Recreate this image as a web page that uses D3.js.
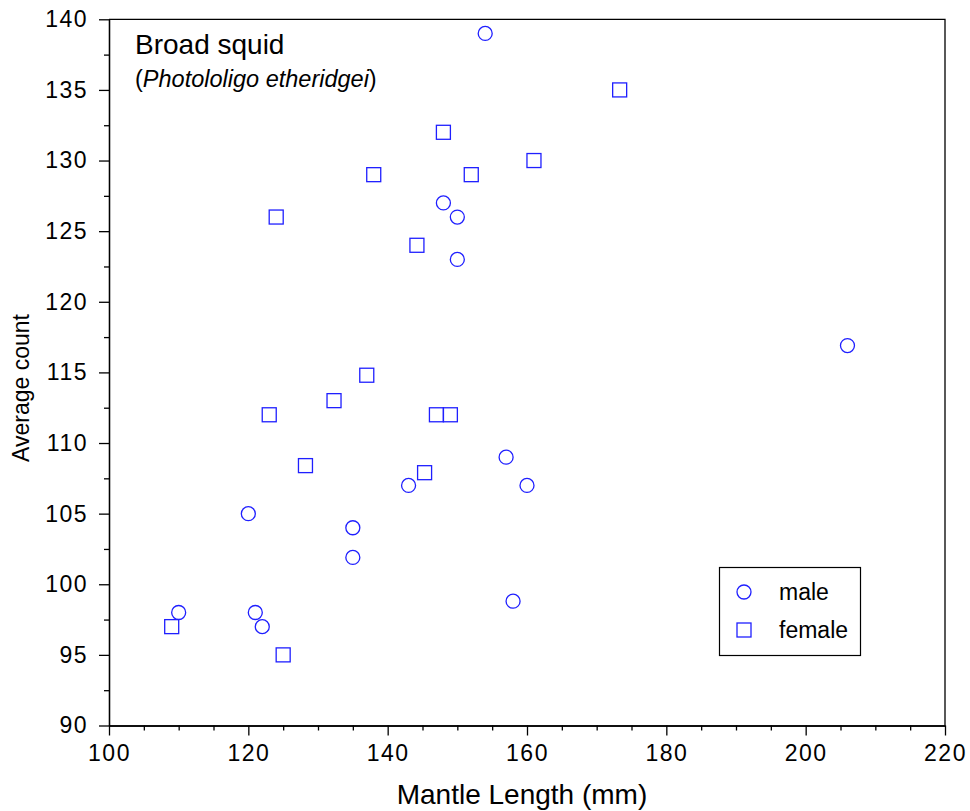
<!DOCTYPE html>
<html>
<head>
<meta charset="utf-8">
<script src="https://cdn.jsdelivr.net/npm/d3@7"></script>
<style>
  body { margin: 0; background: #fff; }
  text { font-family: "Liberation Sans", Arial, sans-serif; fill: #000; }
</style>
</head>
<body>
<script>
// Broad squid scatter
var maleLength = [154, 148, 150, 150, 206, 157, 143, 160, 120, 135, 135, 158, 110, 121, 122];
var maleCount  = [139, 127, 126, 123, 116.9, 109, 107, 107, 105, 104, 101.9, 98.8, 98, 98, 97];

var femaleLength = [173.3, 148, 161, 138, 152, 124, 144.2, 137, 132.3, 123, 147, 149, 128.2, 145.3, 109, 125];
var femaleCount  = [135, 132, 130, 129, 129, 126, 124, 114.8, 113, 112, 112, 112, 108.4, 107.9, 97, 95];

var xTicks = [100, 120, 140, 160, 180, 200, 220];
var yTicks = [90, 95, 100, 105, 110, 115, 120, 125, 130, 135, 140];

var width = 970, height = 811;

var svg = d3.select("body").append("svg")
    .attr("width", width)
    .attr("height", height);

var x = d3.scaleLinear().domain([100, 220]).range([109, 945]);
var y = d3.scaleLinear().domain([90, 140]).range([725.5, 19.3]);

// minor ticks
var xMinor = d3.range(100, 221, 5).filter(function(d){ return d % 20 != 0; });
var yMinor = d3.range(92.5, 140, 5);

// frame on top and right
svg.append("path")
    .attr("d", "M" + x(100) + "," + y(140) + "H" + x(220) + "V" + y(90))
    .attr("fill", "none")
    .attr("stroke", "#000")
    .attr("stroke-width", 1.3);

var xAxis = svg.append("g")
    .attr("transform", "translate(0," + y(90) + ")")
    .call(d3.axisBottom(x).tickValues(xTicks).tickSize(10).tickSizeOuter(0).tickPadding(9));
svg.append("g")
    .attr("transform", "translate(0," + y(90) + ")")
    .call(d3.axisBottom(x).tickValues(xMinor).tickSize(5).tickSizeOuter(0).tickFormat(""));

var yAxis = svg.append("g")
    .attr("transform", "translate(" + x(100) + ",0)")
    .call(d3.axisLeft(y).tickValues(yTicks).tickSize(10).tickSizeOuter(0).tickPadding(11));
svg.append("g")
    .attr("transform", "translate(" + x(100) + ",0)")
    .call(d3.axisLeft(y).tickValues(yMinor).tickSize(5).tickSizeOuter(0).tickFormat(""));

svg.selectAll(".domain, .tick line")
    .attr("stroke", "#000")
    .attr("stroke-width", 1.3);

svg.selectAll(".tick text")
    .style("font-family", '"Liberation Sans", Arial, sans-serif')
    .style("font-size", "23px")
    .style("letter-spacing", "1.5px");

// axis titles
svg.append("text")
    .attr("x", 522)
    .attr("y", 804)
    .attr("text-anchor", "middle")
    .style("font-size", "28px")
    .text("Mantle Length (mm)");

svg.append("text")
    .attr("transform", "translate(29,388) rotate(-90)")
    .attr("text-anchor", "middle")
    .style("font-size", "23px")
    .text("Average count");

// species title
svg.append("text")
    .attr("x", 135)
    .attr("y", 54)
    .style("font-size", "28px")
    .text("Broad squid");

var sub = svg.append("text")
    .attr("x", 135)
    .attr("y", 87)
    .style("font-size", "23.5px");
sub.append("tspan").text("(");
sub.append("tspan").style("font-style", "italic").text("Photololigo etheridgei");
sub.append("tspan").text(")");

var blue = "#1f1fff";

// male = circles
svg.selectAll(".male")
    .data(maleLength)
    .enter()
    .append("circle")
    .attr("class", "male")
    .attr("cx", function(d){ return x(d); })
    .attr("cy", function(d, i){ return y(maleCount[i]); })
    .attr("r", 7)
    .attr("fill", "none")
    .attr("stroke", blue)
    .attr("stroke-width", 1.3);

// female = squares
svg.selectAll(".female")
    .data(femaleLength)
    .enter()
    .append("rect")
    .attr("class", "female")
    .attr("x", function(d){ return x(d) - 7; })
    .attr("y", function(d, i){ return y(femaleCount[i]) - 7; })
    .attr("width", 14)
    .attr("height", 14)
    .attr("fill", "none")
    .attr("stroke", blue)
    .attr("stroke-width", 1.3);

// legend
var lg = svg.append("g");
lg.append("rect")
    .attr("x", 719.5).attr("y", 567.5)
    .attr("width", 141).attr("height", 88)
    .attr("fill", "#fff")
    .attr("stroke", "#000")
    .attr("stroke-width", 1.2);
lg.append("circle")
    .attr("cx", 744).attr("cy", 592)
    .attr("r", 7)
    .attr("fill", "none").attr("stroke", blue).attr("stroke-width", 1.3);
lg.append("rect")
    .attr("x", 737).attr("y", 623)
    .attr("width", 14).attr("height", 14)
    .attr("fill", "none").attr("stroke", blue).attr("stroke-width", 1.3);
lg.append("text")
    .attr("x", 779).attr("y", 600)
    .style("font-size", "23px")
    .text("male");
lg.append("text")
    .attr("x", 779).attr("y", 638)
    .style("font-size", "23px")
    .text("female");
</script>
</body>
</html>
